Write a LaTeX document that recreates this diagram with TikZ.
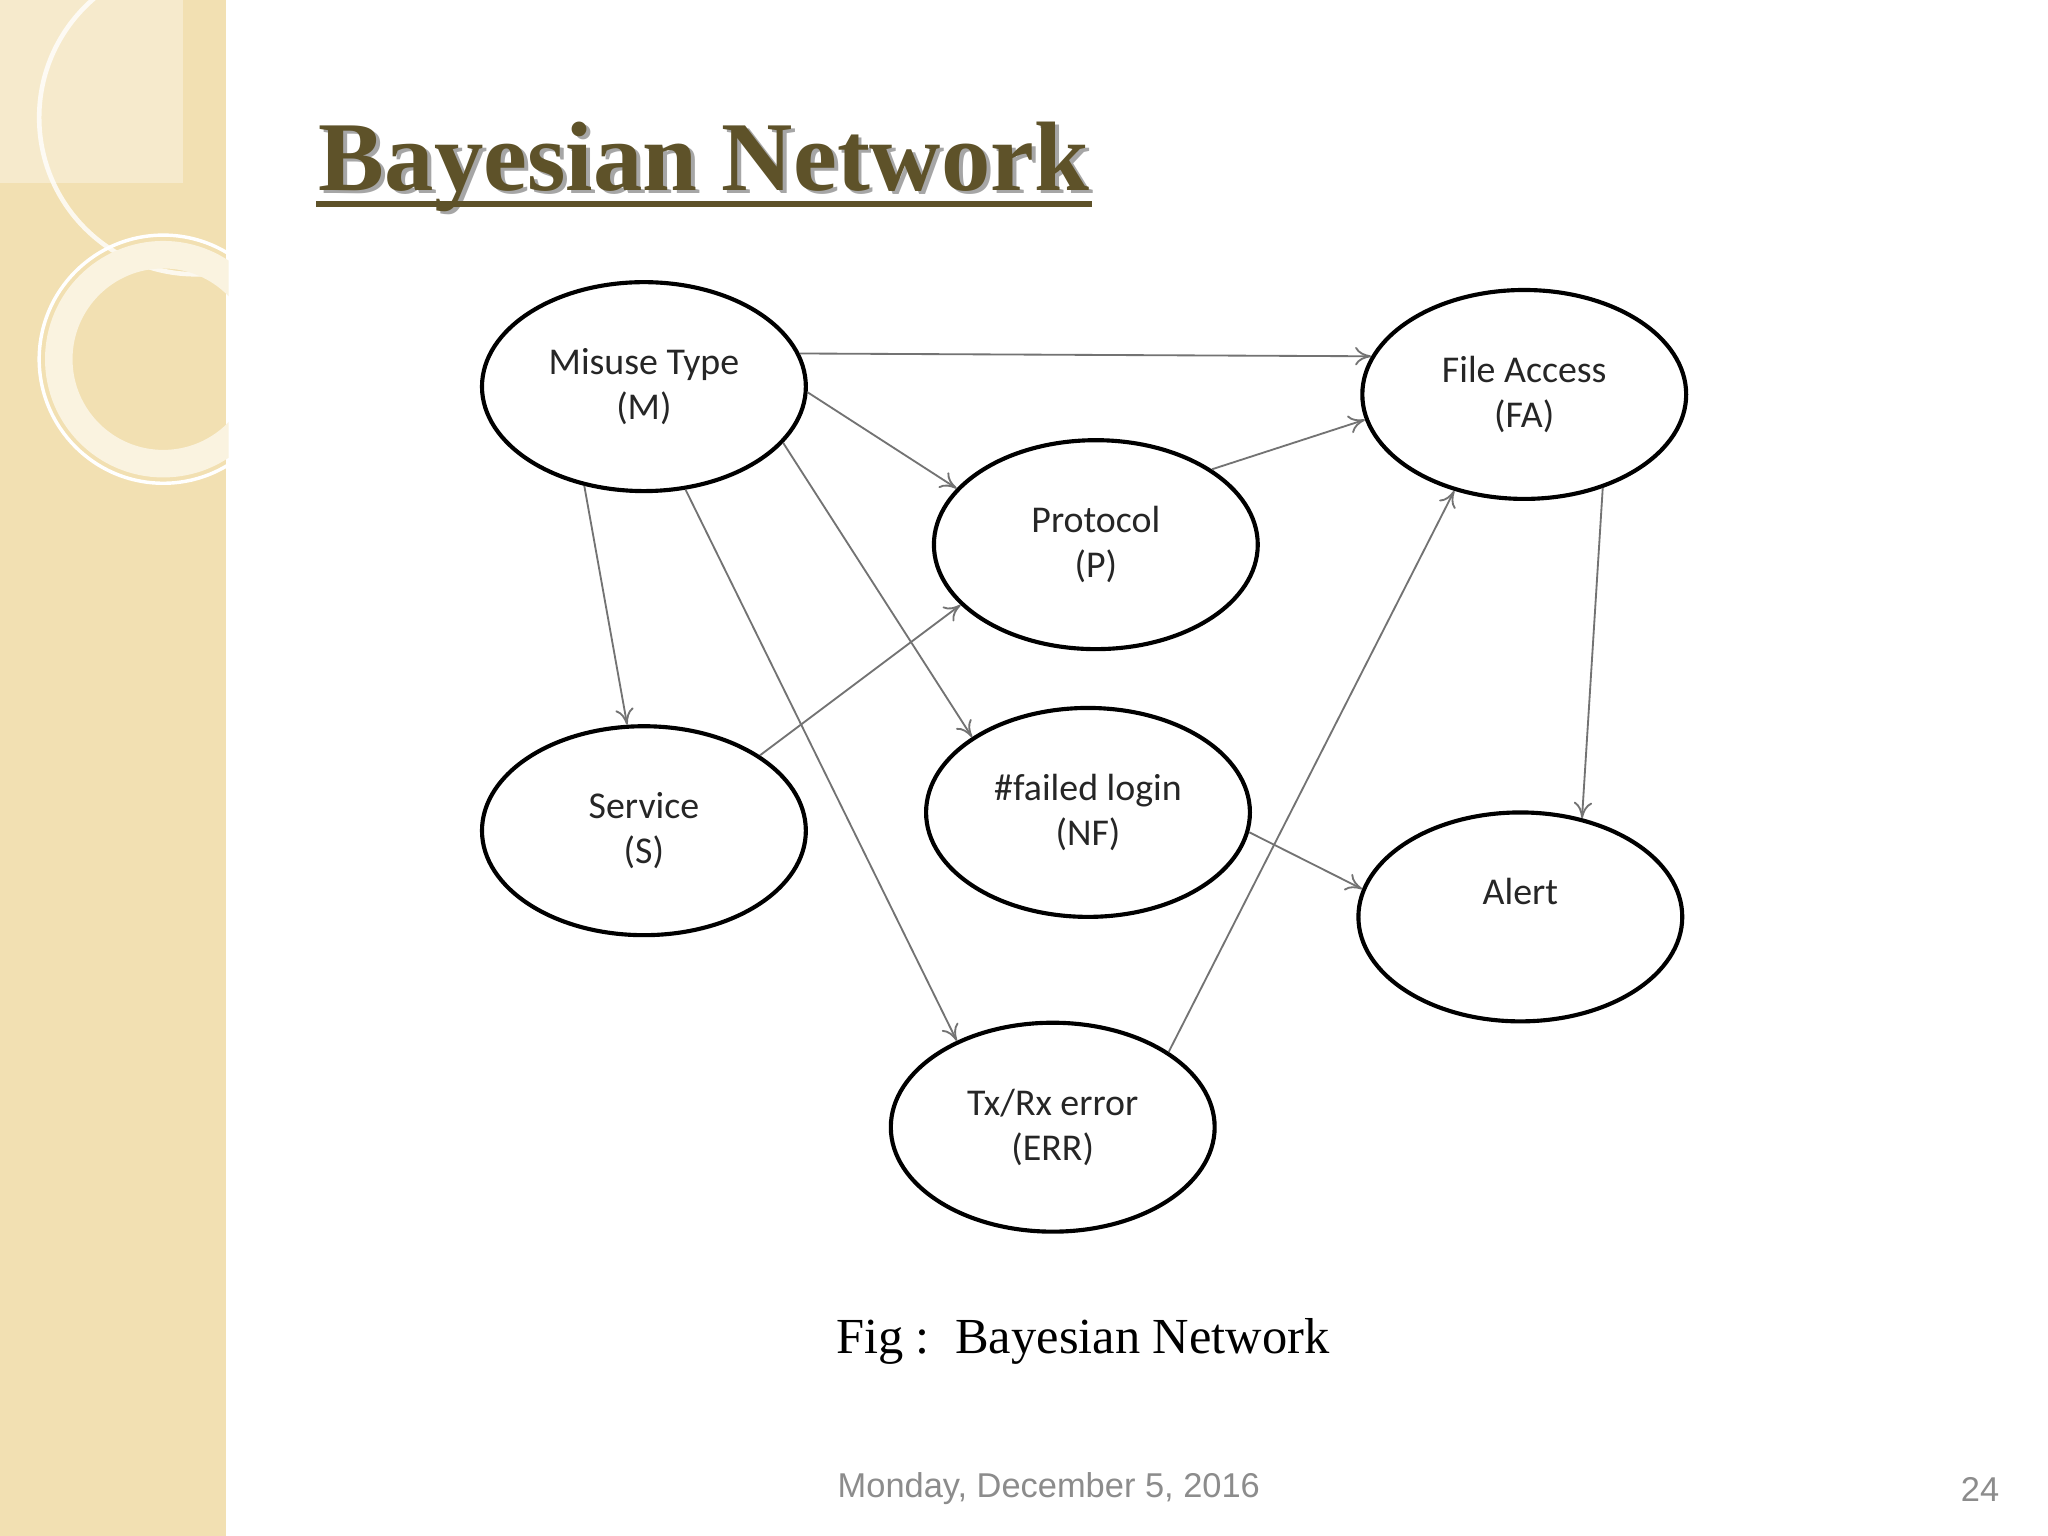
\documentclass[tikz,border=0pt]{standalone}
\usepackage{fontspec}
\setmainfont{Liberation Serif}
\newfontfamily\calfont{Carlito}
\newfontfamily\arialfont{Liberation Sans}
\usetikzlibrary{shapes.geometric,arrows.meta}
\definecolor{strip}{HTML}{F2E0B2}
\definecolor{titlec}{HTML}{5E5229}
\tikzset{
 bn/.style={ellipse,draw,line width=1.8pt,minimum width=4.96cm,minimum height=3.2cm,inner sep=0pt,align=center,font=\calfont\fontsize{16.5}{19.5}\selectfont,text=black!85},
 ed/.style={draw=black!55,line width=0.8pt,-{To[length=7pt,width=8pt]}}
}
\begin{document}
\begin{tikzpicture}[x=0.02cm,y=-0.02cm]
\useasboundingbox (0,0) rectangle (1568,1176);
\fill[white] (0,0) rectangle (1568,1176);
\fill[strip] (0,0) rectangle (173,1176);
\begin{scope}
\clip (0,0) rectangle (175,1176);
\draw[white,line width=2pt,opacity=0.8] (150,90) circle (120);
\fill[white,opacity=0.35] (0,0) rectangle (140,140);
\draw[white!60!strip,line width=12pt] (125,275) circle (80);
\draw[white,line width=1.5pt] (125,275) circle (95);
\end{scope}
\node[anchor=west,font=\bfseries\fontsize{43}{48}\selectfont,text=black!35] at (241,130) {Bayesian Network};
\node[anchor=west,font=\bfseries\fontsize{43}{48}\selectfont,text=titlec] (title) at (238,128) {Bayesian Network};
\draw[titlec,line width=2.5pt] (title.base west) ++(4,10) -- ++(594,0);
\node[bn] (M) at (493,296) {Misuse Type\\(M)};
\node[bn] (FA) at (1167,302) {File Access\\(FA)};
\node[bn] (P) at (839,417) {Protocol\\(P)};
\node[bn] (S) at (493,636) {Service\\(S)};
\node[bn] (NF) at (833,622) {\#failed login\\(NF)};
\node[bn,text depth=22pt] (A) at (1164,702) {Alert};
\node[bn] (E) at (806,863) {Tx/Rx error\\(ERR)};
\draw[ed] (M.12) -- (FA.166);
\draw[ed] (M.-2) -- (P.158);
\draw[ed] (M.-22) -- (NF.147);
\draw[ed] (M.-68) -- (E.138);
\draw[ed] (M.-121) -- (S.99);
\draw[ed] (S.33) -- (P.-156);
\draw[ed] (P.33) -- (FA.-171);
\draw[ed] (E.33) -- (FA.-126);
\draw[ed] (FA.-50) -- (A.58);
\draw[ed] (NF.-7) -- (A.170);
\node[font=\fontsize{22}{26}\selectfont] (cap) at (829,1027) {Fig :\ \ Bayesian Network};
\node[font=\arialfont\fontsize{15}{17}\selectfont,text=black!45] (date) at (803,1140) {Monday, December 5, 2016};
\node[font=\arialfont\fontsize{15}{17}\selectfont,text=black!45] (pg) at (1516,1140) {24};
\end{tikzpicture}
\end{document}
